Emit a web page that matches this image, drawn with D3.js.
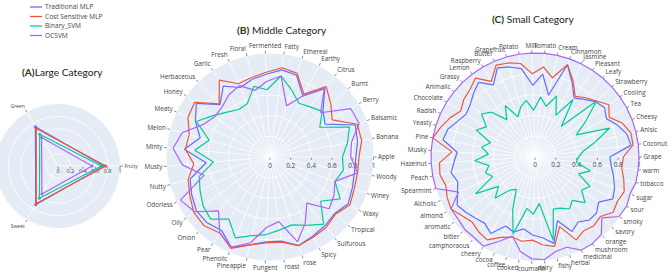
<!DOCTYPE html>
<html><head><meta charset="utf-8">
<script src="https://cdn.jsdelivr.net/npm/d3@7/dist/d3.min.js"></script>
<style>body{margin:0;background:#fff}svg{display:block}text{font-family:"Open Sans",Arial,sans-serif}</style>
</head><body><svg id="c" width="668" height="276"></svg>
<script>
const seriesNames = ["Traditional MLP","Cost Sensitive MLP","Binary_SVM","OCSVM"];
const seriesColors = ["#636efa","#EF553B","#00cc96","#ab63fa"];
const radialTicks = [0,0.2,0.4,0.6,0.8,1];
const radialTickLabels = ["0","0.2","0.4","0.6","0.8","1"];

const largeCats = ["Fruity","Green","Sweet"];
const largeTrad = [0.74,0.73,0.72];
const largeCost = [0.77,0.70,0.70];
const largeSVM  = [0.70,0.59,0.60];
const largeOC   = [0.55,0.53,0.52];

const middleCats = ["Apple","Banana","Balsamic","Berry","Burnt","Citrus","Earthy","Ethereal","Fatty","Fermented","Floral","Fresh","Garlic","Herbaceous","Honey","Meaty","Melon","Minty","Musty","Nutty","Odorless","Oily","Onion","Pear","Phenolic","Pineapple","Pungent","roast","rose","Spicy","Sulfurous","Tropical","Waxy","Winey","Woody"];
const middleTrad = [0.83,0.86,0.88,0.62,0.68,0.85,0.67,0.83,0.85,0.80,0.77,0.73,0.82,0.70,0.88,0.80,0.70,0.83,0.62,0.80,0.84,0.88,0.88,0.85,0.95,0.87,0.82,0.82,0.90,0.87,0.85,0.83,0.88,0.85,0.83];
const middleCost = [0.86,0.90,0.90,0.70,0.78,0.87,0.69,0.85,0.87,0.82,0.79,0.77,0.89,0.71,0.90,0.88,0.81,0.82,0.74,0.82,0.86,0.91,0.92,0.88,0.96,0.87,0.83,0.83,0.90,0.88,0.87,0.84,0.90,0.87,0.86];
const middleSVM  = [0.70,0.76,0.82,0.56,0.67,0.62,0.59,0.68,0.79,0.65,0.70,0.56,0.55,0.60,0.68,0.79,0.61,0.73,0.55,0.71,0.75,0.80,0.83,0.72,0.85,0.78,0.75,0.71,0.69,0.75,0.83,0.65,0.79,0.67,0.72];
const middleOC   = [0.78,0.80,0.92,0.91,0.65,0.84,0.67,0.52,0.79,0.73,0.66,0.75,0.72,0.67,0.66,0.72,0.88,0.94,0.85,0.66,0.96,0.90,0.72,0.88,0.95,0.85,0.68,0.63,0.86,0.72,0.57,0.76,0.72,0.67,0.86];

const smallCats = ["Grape","Coconut","Anisic","Cheesy","Tea","Cooling","Strawberry","Leafy","Pleasant","Jasmine","Cinnamon","Cream","Tomato","Milk","Potato","Grapefruit","Butter","Raspberry","Lemon","Grassy","Animalic","Chocolate","Radish","Yeasty","Pine","Musky","Hazelnut","Peach","Spearmint","Alcholic","almond","aromatic","bitter","camphoraous","cheery","cocoa","coffee","cooked","coumarin","dairy","fishy","herbal","medicinal","mushroom","orange","savory","smoky","sour","sugar","tobacco","warm"];
const smallTrad = [0.72,0.93,0.91,0.85,0.78,0.82,0.79,0.73,0.68,0.80,0.94,0.61,0.80,0.69,0.86,0.90,0.93,0.80,0.90,0.85,0.80,0.78,0.82,0.88,0.90,0.75,0.78,0.82,0.78,0.82,0.88,0.85,0.82,0.80,0.85,0.72,0.75,0.70,0.75,0.78,0.85,0.65,0.80,0.75,0.80,0.80,0.75,0.85,0.82,0.78,0.74];
const smallCost = [0.85,0.95,0.95,0.90,0.81,0.87,0.80,0.75,0.70,0.82,0.94,0.78,0.87,0.80,0.91,0.94,0.96,0.84,0.95,0.90,0.88,0.84,0.90,0.95,1.00,0.80,0.92,0.93,0.90,0.93,0.95,0.90,0.87,0.90,0.92,0.84,0.80,0.82,0.80,0.85,0.88,0.71,0.89,0.85,0.87,0.85,0.92,0.90,0.92,0.88,0.84];
const smallSVM  = [0.42,0.47,0.60,0.77,0.45,0.60,0.80,0.39,0.66,0.45,0.62,0.50,0.58,0.45,0.55,0.50,0.42,0.57,0.45,0.60,0.66,0.55,0.62,0.45,0.52,0.45,0.58,0.45,0.50,0.45,0.67,0.45,0.55,0.40,0.36,0.55,0.77,0.50,0.55,0.45,0.82,0.53,0.55,0.60,0.55,0.65,0.55,0.60,0.45,0.55,0.40];
const smallOC   = [1,1,1,1,1,1,1,1,1,1,1,1,1,1,1,1,1,1,1,1,1,1,1,1,1,1,1,1,1,0.81,0.95,0.95,0.97,0.97,0.99,0.88,0.79,0.92,0.98,0.99,0.93,0.92,1,1,0.98,0.87,0.99,1,0.98,1,1];

const svg = d3.select("#c");
const FG = "#444";

function drawPolar(opt) {
  const {cx, cy, R, cats, data, fs, rfs, rdy, tl, markers} = opt;
  const n = cats.length;
  const r = d3.scaleLinear().domain([0,1]).range([0,R]);
  const ang = d3.scaleLinear().domain([0,n]).range([0,2*Math.PI]);
  const g = svg.append("g").attr("transform",`translate(${cx},${cy})`);
  g.append("circle").attr("r",R).attr("fill","#E5ECF6");
  g.selectAll(".rg").data(radialTicks.filter(t=>t>0&&t<1)).join("circle")
    .attr("r",d=>r(d)).attr("fill","none").attr("stroke","#fff").attr("stroke-width",0.8);
  g.selectAll(".sp").data(cats).join("line")
    .attr("x1",0).attr("y1",0)
    .attr("x2",(d,i)=>R*Math.cos(ang(i))).attr("y2",(d,i)=>-R*Math.sin(ang(i)))
    .attr("stroke","#fff").attr("stroke-width",0.8);
  g.selectAll(".at").data(cats).join("line")
    .attr("x1",(d,i)=>R*Math.cos(ang(i))).attr("y1",(d,i)=>-R*Math.sin(ang(i)))
    .attr("x2",(d,i)=>(R+tl)*Math.cos(ang(i))).attr("y2",(d,i)=>-(R+tl)*Math.sin(ang(i)))
    .attr("stroke",FG).attr("stroke-width",0.6);
  g.selectAll(".al").data(cats).join("text")
    .attr("x",(d,i)=>(R+tl+1.5)*Math.cos(ang(i)))
    .attr("y",(d,i)=>{const a=ang(i);return -(R+tl+1.5)*Math.sin(a) - Math.sin(a)*fs*0.5 + fs*0.35;})
    .attr("text-anchor",(d,i)=>{const c=Math.cos(ang(i));return Math.abs(c)<0.12?"middle":(c>0?"start":"end");})
    .attr("font-size",fs).attr("fill",FG).text(d=>d);
  g.selectAll(".rt").data(radialTicks).join("line")
    .attr("x1",d=>r(d)).attr("x2",d=>r(d)).attr("y1",0.5).attr("y2",0.5+tl*0.8)
    .attr("stroke",FG).attr("stroke-width",0.6);
  g.selectAll(".rl").data(radialTicks).join("text")
    .attr("x",d=>r(d)).attr("y",rdy).attr("text-anchor","middle")
    .attr("font-size",rfs).attr("fill",FG).text((d,i)=>radialTickLabels[i]);
  const line = d3.lineRadial()
    .angle((d,i)=>Math.PI/2 - ang(i))
    .radius(d=>r(d)).curve(d3.curveLinearClosed);
  data.forEach((vals,k)=>{
    g.append("path").attr("d",line(vals)).attr("fill","none")
      .attr("stroke",seriesColors[k]).attr("stroke-width",1.2).attr("stroke-linejoin","round");
    if (markers) {
      g.selectAll(null).data(vals).join("circle")
        .attr("cx",(d,i)=>r(d)*Math.cos(ang(i))).attr("cy",(d,i)=>-r(d)*Math.sin(ang(i)))
        .attr("r",1.5).attr("fill",seriesColors[k]);
    }
  });
}

drawPolar({cx:58, cy:166, R:62, cats:largeCats, data:[largeTrad,largeCost,largeSVM,largeOC], fs:5, rfs:5.5, rdy:7, tl:3, markers:true});
drawPolar({cx:270, cy:157, R:103.5, cats:middleCats, data:[middleTrad,middleCost,middleSVM,middleOC], fs:6.3, rfs:6.5, rdy:11, tl:3, markers:false});
drawPolar({cx:535, cy:157, R:104, cats:smallCats, data:[smallTrad,smallCost,smallSVM,smallOC], fs:6.3, rfs:6.5, rdy:9.5, tl:3, markers:false});

const lg = svg.append("g");
seriesNames.forEach((nm,k)=>{
  const y = 7 + k*9.5;
  lg.append("line").attr("x1",30).attr("x2",42).attr("y1",y).attr("y2",y).attr("stroke",seriesColors[k]).attr("stroke-width",1.3);
  lg.append("text").attr("x",45).attr("y",y+2.3).attr("font-size",6.6).attr("fill",FG).text(nm);
});

function title(x,y,lab,rest){
  const t = svg.append("text").attr("x",x).attr("y",y).attr("font-size",10.2).attr("fill","#222")
    .style("font-family","Lato, 'Open Sans', sans-serif");
  t.append("tspan").attr("font-weight","bold").attr("fill","#2b3a12").text(lab);
  t.append("tspan").text(rest);
}
title(22,76,"(A)","Large Category");
title(237,34,"(B)"," Middle Category");
title(492,23,"(C)","  Small Category");
</script></body></html>
